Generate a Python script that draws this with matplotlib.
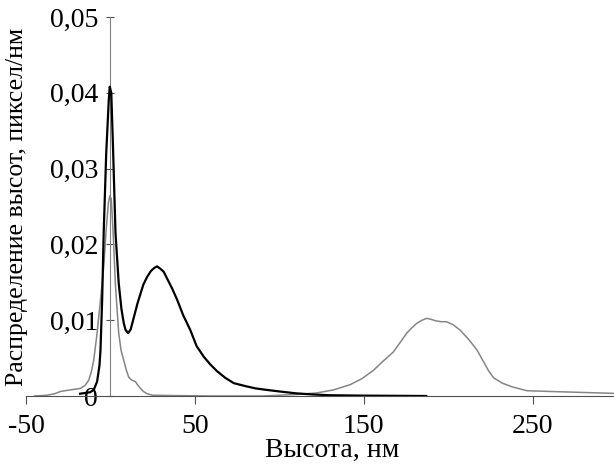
import numpy as np
import matplotlib.pyplot as plt
from matplotlib.ticker import FuncFormatter

# black curve (x, height distribution)
black_x = [-18, -12, -9.9, -7.9, -6.5, -5.9, -4.9, -4, -2.5, -1, -0.4, 0.5, 1.5, 3, 4.9, 6.5,
           7.9, 9, 10.5, 12, 14, 16, 17.8, 19.5, 21.7, 24, 26, 27.6, 29.5, 31.5, 34, 36.5,
           39.5, 43, 47.3, 51, 55.2, 59, 63, 68, 73, 80, 86, 92.7, 100, 110, 120, 130, 150, 187]
black_y = [0.0003, 0.0005, 0.0008, 0.0019, 0.004, 0.006, 0.0127, 0.0215, 0.032, 0.039, 0.0408,
           0.040, 0.033, 0.0215, 0.0149, 0.0115, 0.0096, 0.0087, 0.0083, 0.0088, 0.0105, 0.0122,
           0.0135, 0.0147, 0.0157, 0.0165, 0.0169, 0.0171, 0.0168, 0.0164, 0.0153, 0.0142,
           0.0127, 0.0107, 0.0087, 0.0066, 0.0052, 0.0042, 0.0033, 0.0024, 0.0017, 0.0013,
           0.0010, 0.0008, 0.0006, 0.00035, 0.0002, 0.0001, 0.00005, 0.0]

# gray curve
gray_x = [-45, -37.5, -33, -29.6, -24, -17.8, -15, -12.8, -11.3, -9.9, -7.9, -5.9, -4, -2.5,
          -1.2, -0.4, 0.5, 1.5, 3, 4.9, 6.3, 7.9, 9.3, 10.8, 12.5, 14.8, 16, 17.8, 19.5, 21.7,
          25, 40, 60, 90, 110, 122, 132, 142, 149, 155.8, 161, 167.5, 172, 175.5, 178.5, 181.5,
          184.5, 187.4, 190, 193, 196, 199, 203, 207, 212, 217, 221, 224, 226.9, 232, 238,
          246.5, 260, 275, 297.7, 300]
gray_y = [0.0, 0.0001, 0.0003, 0.0006, 0.0008, 0.001, 0.0014, 0.0021, 0.0032, 0.0047, 0.0083,
          0.0127, 0.017, 0.022, 0.0255, 0.0264, 0.026, 0.022, 0.0145, 0.0083, 0.006, 0.0047,
          0.0035, 0.0025, 0.0021, 0.0019, 0.0015, 0.001, 0.0006, 0.0003, 0.0001, 0.00005, 0.0,
          0.0, 0.0002, 0.0004, 0.0008, 0.0015, 0.0023, 0.0034, 0.0045, 0.0058, 0.0072, 0.0083,
          0.009, 0.0096, 0.0100, 0.01025, 0.0101, 0.0099, 0.0098, 0.0098, 0.0094, 0.0087,
          0.0075, 0.0061, 0.0045, 0.0033, 0.0024, 0.0017, 0.0012, 0.0007, 0.0006, 0.0005,
          0.00035, 0.0003]

x_ticks = [-50, 50, 150, 250]
y_ticks = [0, 0.01, 0.02, 0.03, 0.04, 0.05]

plt.rcParams['font.family'] = ['Liberation Serif', 'DejaVu Serif']
plt.rcParams['axes.unicode_minus'] = False

fig = plt.figure(figsize=(6.14, 4.70), dpi=100)
ax = fig.add_axes([26 / 614, 1 - 396 / 470, 1 - 26 / 614, (396 - 17) / 470])

ax.plot(gray_x, gray_y, color='#858585', lw=1.1, zorder=2)
ax.plot(black_x, black_y, color='black', lw=1.6, zorder=3)

ax.set_xlim(-50, 298.2)
ax.set_ylim(0, 0.05)

ax.spines['top'].set_visible(False)
ax.spines['right'].set_visible(False)
ax.spines['left'].set_position(('data', 0))
ax.spines['left'].set_color('#808080')
ax.spines['bottom'].set_color('#505050')

ax.set_xticks(x_ticks)
ax.set_yticks(y_ticks)
ax.yaxis.set_major_formatter(FuncFormatter(lambda v, p: '0' if v == 0 else f'{v:.2f}'.replace('.', ',')))
ax.tick_params(axis='x', direction='out', length=6, color='#505050', labelsize=20, pad=7)
ax.tick_params(axis='y', direction='inout', length=6, color='#505050', labelsize=20, pad=6)

ax.set_xlabel('Высота, нм', fontsize=20)
ax.xaxis.set_label_coords(0.52, -0.11)
ax.set_ylabel('Распределение высот, пиксел/нм', fontsize=18.5)
ax.yaxis.set_label_coords(0.004, 0.5)

fig.savefig('out.png', dpi=100)
plt.close(fig)
